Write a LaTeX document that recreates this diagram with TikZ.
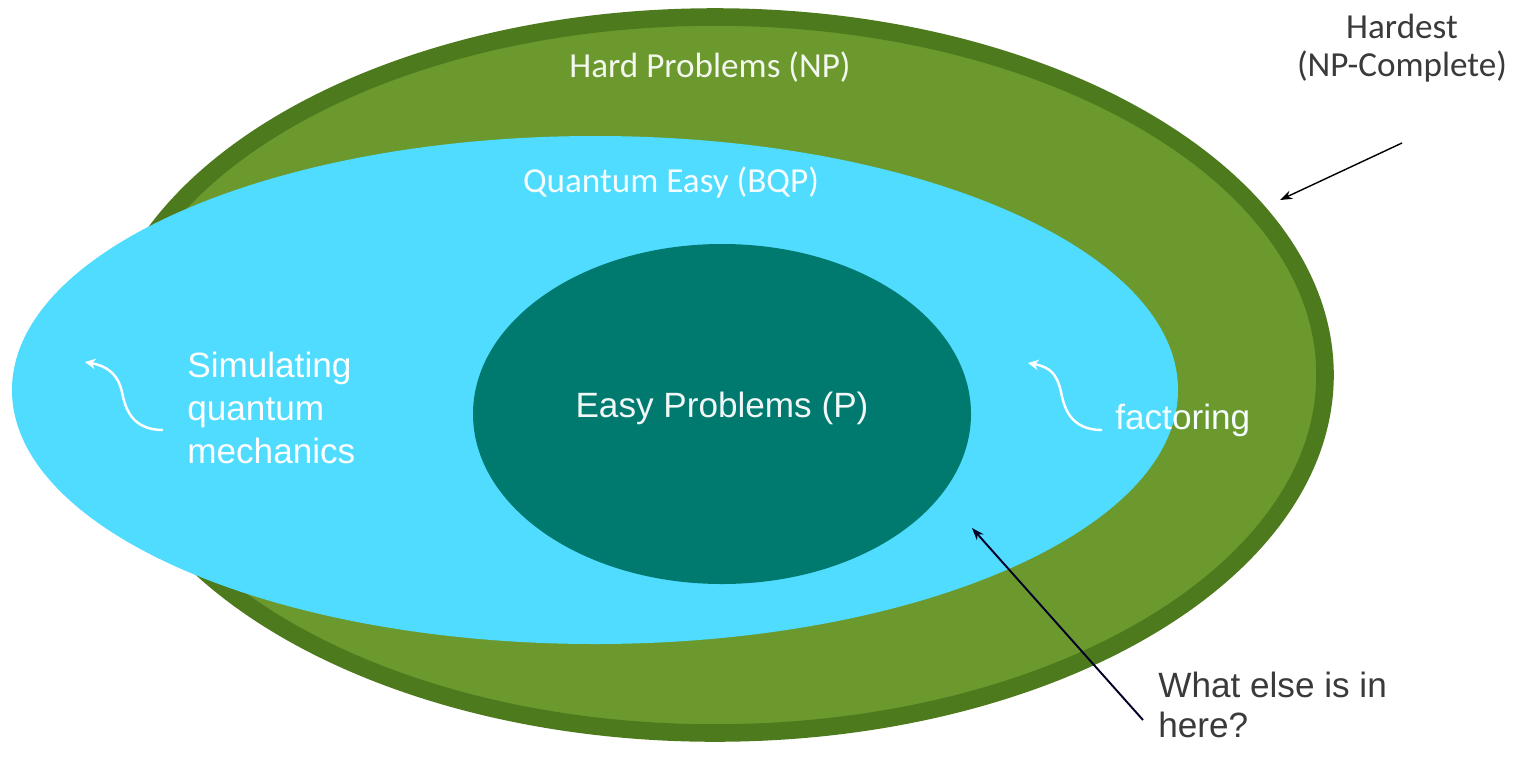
\documentclass[tikz,border=0pt]{standalone}
\usepackage{fontspec}
\setmainfont{Liberation Sans}
\newfontfamily\calibri{Carlito}
\usetikzlibrary{arrows.meta, positioning}

\definecolor{npgreen}{HTML}{6B992E}
\definecolor{npborder}{HTML}{4E7A1E}
\definecolor{bqpblue}{HTML}{50DCFF}
\definecolor{pteal}{HTML}{00796F}
\definecolor{darktext}{HTML}{3A3A3A}

\begin{document}
\begin{tikzpicture}[x=0.02cm, y=-0.02cm,
		classlabel/.style={font=\calibri\fontsize{20}{24}\selectfont, inner sep=0pt},
		bodytext/.style={font=\fontsize{20}{24.5}\selectfont, inner sep=0pt, align=left},
		pointer/.style={-{Stealth[length=7pt, width=5pt]}, line width=0.8pt},
		squiggle/.style={-{Stealth[length=6pt, width=6pt]}, white, line width=1.4pt}
		]
		
		\useasboundingbox (0,0) rectangle (1520,758);
		
		% Classes
		\draw[line width=10pt, draw=npborder, fill=npgreen] (715,375) ellipse [x radius=610, y radius=358];
		\fill[bqpblue] (595,390) ellipse [x radius=583, y radius=254];
		\fill[pteal] (722,414) ellipse [x radius=249, y radius=170];
		
		% Class labels
		\node[classlabel, text=white!92!npgreen] (np) at (710,67) {Hard Problems (NP)};
		\node[classlabel, text=white!94!bqpblue] (bqp) at (671,182) {Quantum Easy (BQP)};
		\node[bodytext, text=white!94!pteal] (p) at (722,408) {Easy Problems (P)};
		
		% Examples in BQP
		\node[bodytext, anchor=west, text=white] (sim) at (187,408) {Simulating\\quantum\\mechanics};
		\node[bodytext, anchor=west, text=white!94!bqpblue] (fact) at (1115,420) {factoring};
		
		\coordinate (simtail) at (163,430);
		\coordinate (simtip) at (85,362);
		\coordinate (facttail) at (1102,430);
		\coordinate (facttip) at (1028,363);
		\draw[squiggle] (simtail) .. controls +(-32,0) and +(3,15) .. ++(-41,-38) .. controls +(-4,-18) and +(22,4) .. (simtip);
		\draw[squiggle] (facttail) .. controls +(-32,0) and +(3,15) .. ++(-41,-38) .. controls +(-4,-18) and +(22,4) .. (facttip);
		
		% Outside notes
		\node[classlabel, align=center, text=darktext, font=\calibri\fontsize{20}{22}\selectfont] (hardest) at (1402,48) {Hardest\\(NP-Complete)};
		\node[bodytext, anchor=west, text=darktext, font=\fontsize{20}{23}\selectfont] (else) at (1158,705) {What else is in\\here?};
		
		\coordinate (hardtail) at (1402,143);
		\coordinate (hardtip) at (1280,200);
		\coordinate (elsetail) at (1143,720);
		\coordinate (elsetip) at (972,528);
		\draw[pointer, black] (hardtail) -- (hardtip);
		\draw[pointer, black!85!blue, line width=1.1pt] (elsetail) -- (elsetip);
		
	\end{tikzpicture}
\end{document}
